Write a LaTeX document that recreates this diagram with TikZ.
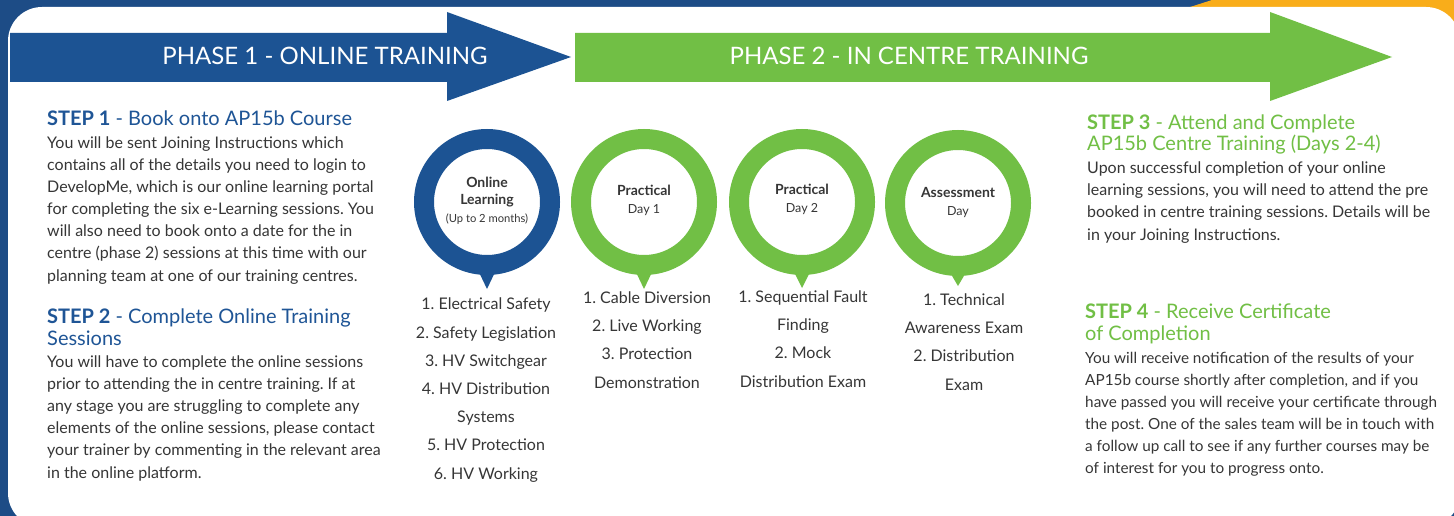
\documentclass[tikz,border=0pt]{standalone}
\usepackage{fontspec}
\setmainfont{Lato}
\definecolor{bgblue}{HTML}{1D4C86}
\definecolor{arrowblue}{HTML}{1C5393}
\definecolor{headblue}{HTML}{1F5596}
\definecolor{brandgreen}{HTML}{71BF45}
\definecolor{textgray}{HTML}{363636}
\definecolor{brandorange}{HTML}{F9AD1A}
\begin{document}
\frenchspacing
\begin{tikzpicture}[x=1pt,y=-1pt,
  phasetext/.style={text=white,font=\fontsize{24}{26}\selectfont,inner sep=0pt,anchor=base},
  headtext/.style={font=\fontsize{20}{21.5}\selectfont,inner sep=0pt,anchor=base west,align=left},
  bodytext/.style={text=textgray,font=\fontsize{16}{22.1}\selectfont,inner sep=0pt,anchor=base west,align=left},
  smallbody/.style={text=textgray,font=\fontsize{15.3}{22}\selectfont,inner sep=0pt,anchor=base west,align=left},
  ring/.style={circle,draw=#1,line width=20pt,minimum size=126pt,inner sep=0pt},
  ringlabel/.style={text=textgray,font=\fontsize{14}{17.5}\selectfont,inner sep=0pt,anchor=base,align=center},
  listtext/.style={text=textgray,font=\fontsize{16}{28.2}\selectfont,inner sep=0pt,anchor=base,align=center}
]
\useasboundingbox (0,0) rectangle (1454,516);
% background
\fill[bgblue] (0,0) rectangle (1454,516);
\fill[brandorange] (1187,8) -- (1212,0) -- (1454,0) -- (1454,70) -- (1187,70) -- cycle;
\fill[white,rounded corners=34pt] (8,527) -- (8,7) -- (1460,7) -- (1460,527) -- cycle;
% phase arrows
\fill[arrowblue] (10,33) -- (447,33) -- (447,12) -- (571,57) -- (447,101) -- (447,82) -- (10,82) -- cycle;
\fill[brandgreen] (575,33) -- (1270,33) -- (1270,12) -- (1392,57) -- (1270,101) -- (1270,82) -- (575,82) -- cycle;
\node[phasetext] (p1) at (325,65) {PHASE 1 - ONLINE TRAINING};
\node[phasetext] (p2) at (909,65) {PHASE 2 - IN CENTRE TRAINING};
% step 1 (base = last line)
\node[headtext,text=headblue] (s1h) at (47,126) {\textbf{STEP 1} - Book onto AP15b Course};
\node[bodytext] (s1b) at (47,281) {You will be sent Joining Instructions which\\
contains all of the details you need to login to\\
DevelopMe, which is our online learning portal\\
for completing the six e-Learning sessions. You\\
will also need to book onto a date for the in\\
centre (phase 2) sessions at this time with our\\
planning team at one of our training centres.};
% step 2
\node[headtext,text=headblue] (s2h) at (47,345) {\textbf{STEP 2} - Complete Online Training\\Sessions};
\node[bodytext] (s2b) at (47,478) {You will have to complete the online sessions\\
prior to attending the in centre training. If at\\
any stage you are struggling to complete any\\
elements of the online sessions, please contact\\
your trainer by commenting in the relevant area\\
in the online platform.};
% step 3
\node[headtext,text=brandgreen] (s3h) at (1087,151) {\textbf{STEP 3} - Attend and Complete\\AP15b Centre Training (Days 2-4)};
\node[bodytext] (s3b) at (1087,240) {Upon successful completion of your online\\
learning sessions, you will need to attend the pre\\
booked in centre training sessions. Details will be\\
in your Joining Instructions.};
% step 4
\node[headtext,text=brandgreen] (s4h) at (1085,340) {\textbf{STEP 4} - Receive Certificate\\of Completion};
\node[smallbody] (s4b) at (1085,473) {You will receive notification of the results of your\\
AP15b course shortly after completion, and if you\\
have passed you will receive your certificate through\\
the post. One of the sales team will be in touch with\\
a follow up call to see if any further courses may be\\
of interest for you to progress onto.};
% circles
\node[ring=arrowblue] (c1) at (487,202) {};
\fill[arrowblue] (477,268) -- (497,268) -- (487,289) -- cycle;
\node[ring=brandgreen] (c2) at (644,202) {};
\fill[brandgreen] (634,268) -- (654,268) -- (644,289) -- cycle;
\node[ring=brandgreen] (c3) at (802,202) {};
\fill[brandgreen] (792,268) -- (812,268) -- (802,288) -- cycle;
\node[ring=brandgreen] (c4) at (958,203) {};
\fill[brandgreen] (948,269) -- (968,269) -- (958,286) -- cycle;
\node[ringlabel] (l1) at (487,222) {\textbf{Online}\\\textbf{Learning}\\{\fontsize{11.2}{14}\selectfont (Up to 2 months)}};
\node[ringlabel] (l2) at (644,213) {\textbf{Practical}\\{\fontsize{12.5}{14}\selectfont Day 1}};
\node[ringlabel] (l3) at (802,212) {\textbf{Practical}\\{\fontsize{12.5}{14}\selectfont Day 2}};
\node[ringlabel] (l4) at (958,215) {\textbf{Assessment}\\{\fontsize{12.5}{14}\selectfont Day}};
% lists
\node[listtext] (t1) at (486,479) {1. Electrical Safety\\2. Safety Legislation\\3. HV Switchgear\\4. HV Distribution\\Systems\\5. HV Protection\\6. HV Working};
\node[listtext] (t2) at (647,388) {1. Cable Diversion\\2. Live Working\\3. Protection\\Demonstration};
\node[listtext] (t3) at (803,387) {1. Sequential Fault\\Finding\\2. Mock\\Distribution Exam};
\node[listtext] (t4) at (964,390) {1. Technical\\Awareness Exam\\2. Distribution\\Exam};
\end{tikzpicture}
\end{document}
